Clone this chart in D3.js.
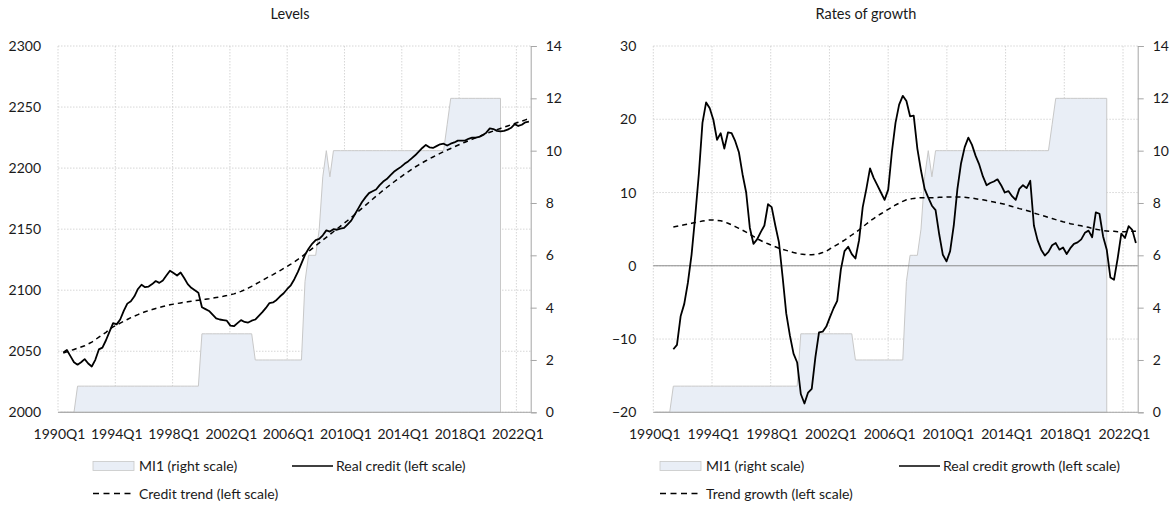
<!DOCTYPE html>
<meta charset="utf-8">
<style>
body { margin: 0; background: #fff; }
text { font-family: Lato, "Open Sans", sans-serif; fill: #1a1a1a; }
</style>
<body>
<div id="chart"></div>
<script src="https://d3js.org/d3.v7.min.js"></script>
<script>
// categories: 1990Q1 .. 2023Q1
var quarters = [];
for (var yr = 1990; yr <= 2023; yr++) for (var q = 1; q <= 4; q++) quarters.push(yr + "Q" + q);
quarters = quarters.slice(0, 133);
var labelIdx = [0, 16, 32, 48, 64, 80, 96, 112, 128];

// MI1 index (right scale), 1990Q1 .. 2021Q1
var mi1 = [0,0,0,0,0,
  1,1,1,1,1,1,1,1,1,1,1,1,1,1,1,1,1,1,1,1,1,1,1,1,1,1,1,1,1,1,1,1,1,1,1,
  3,3,3,3,3,3,3,3,3,3,3,3,3,3,3,
  2,2,2,2,2,2,2,2,2,2,2,2,2,2,
  5,6,6,6,7,9,10,9,
  10,10,10,10,10,10,10,10,10,10,10,10,10,10,10,10,10,10,10,10,10,10,10,10,10,10,10,10,10,10,10,10,
  11,12,12,12,12,12,12,12,12,12,12,12,12,12,12,12];

// real credit level (left scale), starts 1990Q2
var realCredit = [null,
  2049,2051,2046,2041,2039,2041,2043.5,2040,2037.5,2043,
  2051.5,2053,2059,2066,2073,2072,2076,2083,2089,2091,
  2095,2101,2104.5,2102.5,2103,2105,2107.5,2106,2108,2112,
  2116,2114,2112,2114.5,2110,2105,2102,2100,2098,2086,
  2084.5,2083,2080,2077,2076,2075.5,2075,2071,2070.5,2073,
  2075.5,2074,2073.5,2075,2076,2079,2082,2085.5,2089.5,2090,
  2092,2095,2097.5,2101,2104,2109,2115,2122,2129,2134,
  2138,2141,2142,2145,2149,2148,2150,2149.5,2150.5,2151,
  2154,2157,2162,2167,2172,2176,2179.5,2181,2182.5,2186,
  2189,2191,2194,2197,2199,2201,2203.5,2205.5,2208,2210.5,
  2213.5,2216.5,2219,2217,2216.5,2218,2219.5,2220,2218.5,2220,
  2221,2222.5,2222.5,2222.5,2224,2225,2225,2225.5,2227,2229,
  2232.5,2232,2230.5,2230,2230.5,2231.5,2233,2236,2234.5,2235.5,
  2237.5,2238];

// credit trend level (left scale)
var creditTrend = [null,
  2048.5,2049.5,2050.5,2051.5,2052.5,2053.5,2054.5,2056,2057.5,2059.5,
  2061.5,2063.5,2065.5,2068,2070,2071.5,2073,2074.5,2076,2077.5,
  2078.8,2080,2081.2,2082.3,2083.3,2084.2,2085,2085.8,2086.6,2087.3,
  2088,2088.6,2089.1,2089.6,2090,2090.5,2091,2091.4,2091.8,2092.2,
  2092.6,2093,2093.5,2094,2094.5,2095,2095.6,2096.3,2097,2098,
  2099,2100.3,2101.7,2103.2,2104.8,2106.4,2108,2109.7,2111.3,2112.8,
  2114.4,2116.1,2117.8,2119.5,2121.3,2123.2,2125.2,2127.3,2129.5,2131.8,
  2134.1,2136.4,2138.7,2141,2143.3,2145.6,2147.9,2150.2,2152.5,2154.8,
  2157.1,2159.5,2162,2164.5,2167,2169.5,2172,2174.5,2177,2179.4,
  2181.8,2184.1,2186.4,2188.6,2190.8,2192.9,2195,2197,2199,2200.9,
  2202.7,2204.4,2206,2207.6,2209.1,2210.6,2212,2213.4,2214.8,2216.1,
  2217.4,2218.7,2220,2221.2,2222.4,2223.6,2224.8,2226,2227.1,2228.2,
  2229.3,2230.4,2231.5,2232.5,2233.5,2234.5,2235.5,2236.5,2237.5,2238.5,
  2239.5,2240.5];

// real credit growth (left scale), starts 1991Q2
var creditGrowth = [null,null,null,null,null,
  -11.4,-10.8,-6.9,-5.2,-2.3,1.5,6.7,12.5,19.5,22.3,
  21.5,19.9,17.2,18.1,16.0,18.2,18.1,17.0,15.5,12.5,
  10.0,5.2,3.0,3.6,4.6,5.5,8.4,8.0,5.5,3.2,
  -1.5,-6.5,-9.5,-12.0,-13.2,-17.5,-18.8,-17.3,-16.8,-12.5,
  -9.1,-9.0,-8.3,-7.0,-5.8,-4.8,-0.5,2.0,2.6,1.6,
  1.0,3.5,8.0,10.5,13.3,12.0,11.0,10.0,9.0,10.4,
  15.5,19.5,22.0,23.2,22.5,20.4,20.5,16.0,13.0,10.5,
  9.3,8.2,7.6,4.3,1.5,0.6,2.0,5.5,10.5,14.0,
  16.2,17.5,16.5,15.0,13.8,12.2,11.0,11.3,11.5,11.8,
  11.0,10.0,10.2,9.5,9.0,10.5,11.0,10.6,11.6,5.5,
  3.5,2.2,1.4,1.9,2.8,3.1,2.2,2.5,1.6,2.4,
  3.0,3.2,3.6,4.5,4.8,3.9,7.3,7.1,4.0,2.2,
  -1.6,-1.9,1.0,4.4,3.8,5.4,4.9,3.1];

// trend growth (left scale)
var trendGrowth = [null,null,null,null,null,
  5.3,5.4,5.5,5.6,5.7,5.8,5.9,6.0,6.1,6.2,
  6.25,6.25,6.2,6.15,6.0,5.8,5.6,5.35,5.1,4.85,
  4.6,4.3,4.0,3.7,3.45,3.2,3.0,2.8,2.6,2.4,
  2.25,2.1,1.95,1.8,1.7,1.6,1.55,1.5,1.5,1.55,
  1.65,1.8,2.0,2.3,2.6,2.9,3.2,3.5,3.85,4.2,
  4.55,4.9,5.3,5.7,6.1,6.45,6.8,7.1,7.4,7.7,
  8.0,8.3,8.55,8.8,9.0,9.1,9.2,9.25,9.3,9.3,
  9.3,9.3,9.3,9.35,9.35,9.4,9.4,9.4,9.4,9.4,
  9.35,9.3,9.25,9.15,9.05,9.0,8.9,8.8,8.7,8.6,
  8.5,8.4,8.25,8.1,7.95,7.8,7.7,7.55,7.4,7.2,
  7.05,6.9,6.75,6.6,6.45,6.3,6.15,6.0,5.9,5.75,
  5.65,5.55,5.45,5.35,5.25,5.1,5.0,4.9,4.8,4.75,
  4.7,4.7,4.65,4.65,4.65,4.7,4.7,4.7];

var leftTicksA = [2000, 2050, 2100, 2150, 2200, 2250, 2300];
var leftTicksB = [-20, -10, 0, 10, 20, 30];
var rightTicks = [0, 2, 4, 6, 8, 10, 12, 14];

var svg = d3.select("#chart").append("svg")
    .attr("width", 1172).attr("height", 506);

function panel(o) {
  var g = svg.append("g");
  var xBand = d3.scaleBand().domain(d3.range(quarters.length)).range([o.x0, o.x1]);
  var xc = function(i) { return xBand(i) + xBand.bandwidth() / 2; };
  var xGrid = d3.scaleLinear().domain([0, quarters.length - 1]).range([o.x0, o.x1]);
  var yL = d3.scaleLinear().domain(d3.extent(o.leftTicks)).range([o.yB, o.yT]);
  var yR = d3.scaleLinear().domain([0, 14]).range([o.yB, o.yT]);

  // title
  g.append("text").attr("x", o.titleX).attr("y", 19)
    .attr("text-anchor", "middle").style("font-size", "14.5px").text(o.title);

  // grid
  g.selectAll(".hg").data(o.leftTicks).enter().append("line")
    .attr("x1", o.x0).attr("x2", o.x1)
    .attr("y1", d => yL(d)).attr("y2", d => yL(d))
    .attr("stroke", "#cccccc").attr("stroke-width", 0.8).attr("stroke-dasharray", "1.5,1.5");
  g.selectAll(".vg").data(labelIdx).enter().append("line")
    .attr("x1", d => xGrid(d)).attr("x2", d => xGrid(d))
    .attr("y1", o.yT).attr("y2", o.yB)
    .attr("stroke", "#cccccc").attr("stroke-width", 0.8).attr("stroke-dasharray", "1.5,1.5");

  // MI1 area
  var area = d3.area().x((d, i) => xc(i)).y0(o.yB).y1(d => yR(d));
  g.append("path").datum(mi1).attr("d", area)
    .attr("fill", "#e9eef6").attr("stroke", "#c8c8c8").attr("stroke-width", 1);

  // zero line / bottom axis
  if (o.zero) {
    g.append("line").attr("x1", o.x0).attr("x2", o.x1)
      .attr("y1", yL(0)).attr("y2", yL(0)).attr("stroke", "#8c8c8c").attr("stroke-width", 1);
  }
  g.append("line").attr("x1", o.x0).attr("x2", o.x1)
    .attr("y1", o.yB).attr("y2", o.yB).attr("stroke", "#a6a6a6").attr("stroke-width", 1);

  // lines
  var line = d3.line().defined(d => d != null).x((d, i) => xc(i)).y(d => yL(d));
  g.append("path").datum(o.trend).attr("d", line)
    .attr("fill", "none").attr("stroke", "#000").attr("stroke-width", 1.5)
    .attr("stroke-dasharray", "5,4");
  g.append("path").datum(o.actual).attr("d", line)
    .attr("fill", "none").attr("stroke", "#000").attr("stroke-width", 1.8)
    .attr("stroke-linejoin", "round");

  // axes
  var ax = g.append("g").attr("transform", "translate(1," + (o.yB + 14) + ")")
    .call(d3.axisBottom(xGrid).tickValues(labelIdx).tickFormat(i => quarters[i]).tickSize(0));
  ax.select(".domain").remove();
  ax.selectAll("text").style("font-size", "14px").attr("font-family", null).attr("fill", null);

  var al = g.append("g").attr("transform", "translate(" + (o.x0 - 14) + ",0)")
    .call(d3.axisLeft(yL).tickValues(o.leftTicks).tickFormat(d3.format("d")).tickSize(0));
  al.select(".domain").remove();
  al.selectAll("text").style("font-size", "14px").attr("font-family", null).attr("fill", null);

  var ar = g.append("g").attr("transform", "translate(" + o.x1 + ",0)")
    .call(d3.axisRight(yR).tickValues(rightTicks).tickSize(6).tickPadding(9));
  ar.select(".domain").attr("stroke", "#a6a6a6");
  ar.selectAll(".tick line").attr("stroke", "#a6a6a6");
  ar.selectAll("text").style("font-size", "14px").attr("font-family", null).attr("fill", null);

  // legend
  var L = g.append("g");
  L.append("rect").attr("x", o.lx).attr("y", 461.5).attr("width", 41).attr("height", 9)
    .attr("fill", "#e9eef6").attr("stroke", "#c8c8c8").attr("stroke-width", 0.8);
  L.append("text").attr("x", o.lx + 46).attr("y", 471).style("font-size", "14px").text("MI1 (right scale)");
  L.append("line").attr("x1", o.sx).attr("x2", o.sx + 41).attr("y1", 466).attr("y2", 466)
    .attr("stroke", "#000").attr("stroke-width", 1.5);
  L.append("text").attr("x", o.sx + 44).attr("y", 471).style("font-size", "14px").text(o.actualName);
  L.append("line").attr("x1", o.lx).attr("x2", o.lx + 41).attr("y1", 493.5).attr("y2", 493.5)
    .attr("stroke", "#000").attr("stroke-width", 1.5).attr("stroke-dasharray", "6,4.5");
  L.append("text").attr("x", o.lx + 46).attr("y", 498.5).style("font-size", "14px").text(o.trendName);
}

panel({title: "Levels", titleX: 290, x0: 58, x1: 530.7, yT: 46, yB: 412.3,
  leftTicks: leftTicksA, actual: realCredit, trend: creditTrend, zero: false,
  lx: 93, sx: 292, actualName: "Real credit (left scale)", trendName: "Credit trend (left scale)"});
panel({title: "Rates of growth", titleX: 866, x0: 653.3, x1: 1137.7, yT: 46, yB: 412.3,
  leftTicks: leftTicksB, actual: creditGrowth, trend: trendGrowth, zero: true,
  lx: 660, sx: 899, actualName: "Real credit growth (left scale)", trendName: "Trend growth (left scale)"});
</script>
</body>
